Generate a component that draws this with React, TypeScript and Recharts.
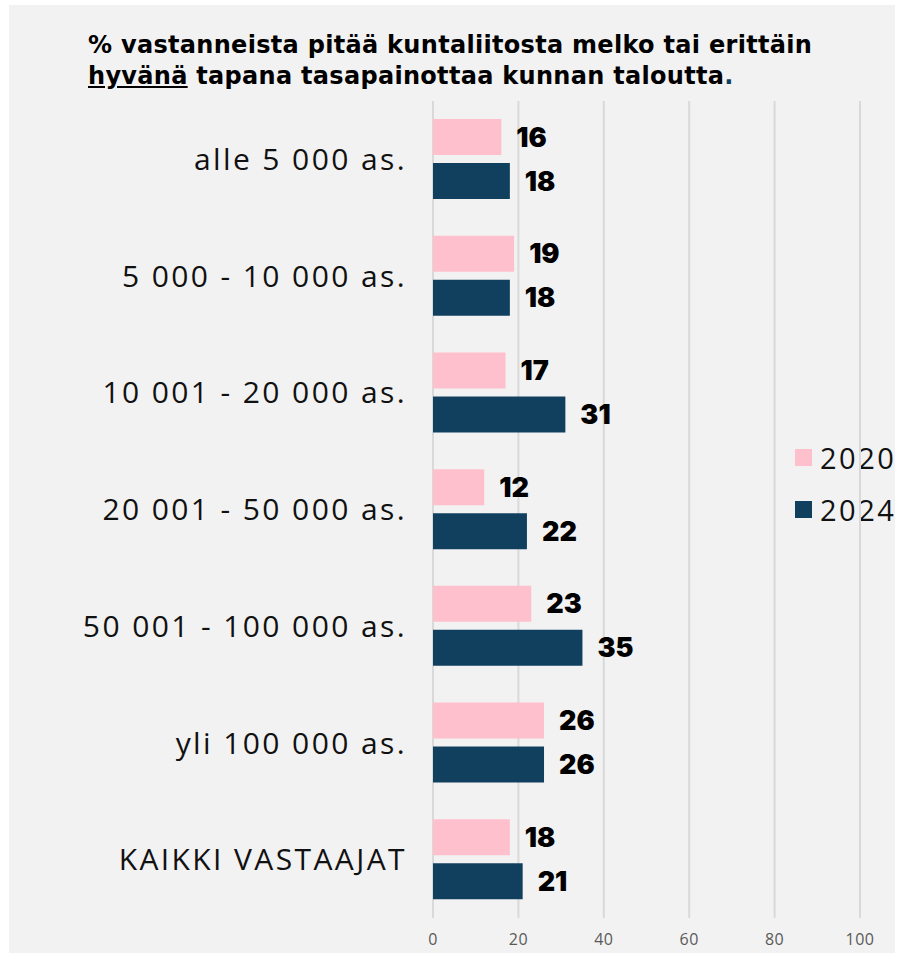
import React from 'react';
import { BarChart, Bar, XAxis, YAxis, CartesianGrid, Legend, LabelList } from 'recharts';

const categories = [
  'alle 5 000 as.',
  '5 000 - 10 000 as.',
  '10 001 - 20 000 as.',
  '20 001 - 50 000 as.',
  '50 001 - 100 000 as.',
  'yli 100 000 as.',
  'KAIKKI VASTAAJAT',
];
const values2020 = [16, 19, 17, 12, 23, 26, 18];
const values2024 = [18, 18, 31, 22, 35, 26, 21];
const xTicks = [0, 20, 40, 60, 80, 100];

const PINK = '#FFC0CE';
const NAVY = '#11405F';

const data = categories.map((name, i) => ({
  name,
  y2020: values2020[i],
  y2024: values2024[i],
}));

// legend sits behind the svg so the 100 gridline runs across it, like the original
const LegendBox = (props: any) => {
  const { payload } = props;
  return (
    <div>
      {(payload || []).map((item: any) => (
        <div key={item.value} style={{ display: 'flex', alignItems: 'center', height: 52 }}>
          <span style={{ width: 17, height: 17, background: item.color, marginRight: 8 }} />
          <span style={{ fontSize: 29, letterSpacing: 2.5, color: '#111', fontFamily: 'Open Sans, sans-serif' }}>
            {item.value}
          </span>
        </div>
      ))}
    </div>
  );
};

const App: React.FC = () => {
  return (
    <div
      style={{
        position: 'absolute',
        left: 9,
        top: 5,
        width: 886,
        height: 948,
        background: '#F2F2F2',
        zIndex: 0,
        overflow: 'hidden',
      }}
    >
      <div
        style={{
          position: 'absolute',
          left: 79,
          top: 25,
          fontFamily: 'DejaVu Sans, sans-serif',
          fontWeight: 700,
          fontSize: 24,
          letterSpacing: 0.3,
          lineHeight: '31px',
          color: '#000',
          whiteSpace: 'nowrap',
        }}
      >
        % vastanneista pitää kuntaliitosta melko tai erittäin
        <br />
        <span style={{ textDecoration: 'underline' }}>hyvänä</span> tapana tasapainottaa kunnan taloutta
        <span style={{ color: NAVY }}>.</span>
      </div>
      <BarChart
        layout="vertical"
        width={886}
        height={948}
        data={data}
        margin={{ top: 96, right: 35, left: 0, bottom: 0 }}
        barGap={8}
      >
        <CartesianGrid horizontal={false} stroke="#D9D9D9" strokeWidth={2} />
        <XAxis
          type="number"
          domain={[0, 100]}
          ticks={xTicks}
          height={35}
          axisLine={false}
          tickLine={false}
          tickSize={0}
          tickMargin={16}
          tick={{ fontSize: 16, fill: '#595959', fontFamily: 'Open Sans, sans-serif', letterSpacing: 0.5 }}
        />
        <YAxis
          type="category"
          dataKey="name"
          width={424}
          axisLine={false}
          tickLine={false}
          tickSize={0}
          tickMargin={26}
          tick={{ fontSize: 30, fill: '#111', fontFamily: 'Open Sans, sans-serif', letterSpacing: 2.4 }}
        />
        <Legend
          layout="horizontal"
          align="center"
          verticalAlign="middle"
          content={<LegendBox />}
          wrapperStyle={{ left: 786, top: 426, width: 120, zIndex: -1 }}
        />
        <Bar dataKey="y2020" name="2020" fill={PINK} barSize={36} isAnimationActive={false}>
          <LabelList
            dataKey="y2020"
            position="right"
            offset={15}
            fill="#000"
            style={{ fontSize: 27, fontWeight: 900, fontFamily: 'Inter, sans-serif' }}
          />
        </Bar>
        <Bar dataKey="y2024" name="2024" fill={NAVY} barSize={36} isAnimationActive={false}>
          <LabelList
            dataKey="y2024"
            position="right"
            offset={15}
            fill="#000"
            style={{ fontSize: 27, fontWeight: 900, fontFamily: 'Inter, sans-serif' }}
          />
        </Bar>
      </BarChart>
    </div>
  );
};

export default App;
